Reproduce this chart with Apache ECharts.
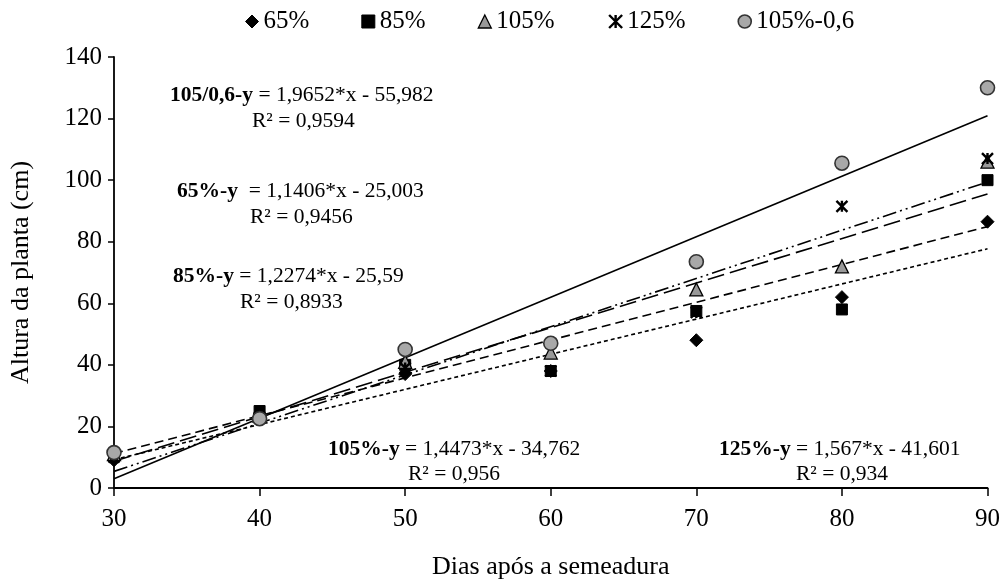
<!DOCTYPE html>
<html><head><meta charset="utf-8">
<script src="https://cdn.jsdelivr.net/npm/echarts@6/dist/echarts.min.js"></script>
<style>html,body{margin:0;padding:0;background:#fff}#c{width:1003px;height:585px}</style>
</head><body><div id="c"></div>
<script>
const days = [30, 40, 50, 60, 70, 80, 90];
const seriesNames = ['65%', '85%', '105%', '125%', '105%-0,6'];
const v65 = [9, 24, 37, 38, 48, 62, 86.5];
const v85 = [11, 25, 40, 38, 57.5, 58, 100];
const v105 = [11, 23.5, 41, 44, 64.5, 72, 106];
const v125 = [10, 23, 39, 38, 57, 91.5, 107];
const v105_06 = [11.5, 22.5, 45, 47, 73.5, 105.5, 130];
// trend line end values read at x=30 and x=90
const trendX = [30, 90];
const trend65 = [9.2, 77.7];
const trend85 = [11.2, 84.9];
const trend105 = [8.7, 95.5];
const trend125 = [5.4, 99.4];
const trend105_06 = [3.0, 120.9];

const font = '"Liberation Serif", "Times New Roman", serif';
const values = [v65, v85, v105, v125, v105_06];
const trends = [trend65, trend85, trend105, trend125, trend105_06];
const symbols = ['diamond', 'rect', 'triangle', 'path://M0,0L10,10M10,0L0,10M5,0L5,10', 'circle'];
const sizes = [13, 11, 13, 11, 14];
const fills = ['#000', '#000', '#999', 'none', '#a8a8a8'];
const borders = ['#000', '#000', '#000', '#000', '#333'];
const bw = [1, 1, 1.3, 2.4, 1.6];
const dashTypes = [[4, 3], [9, 5], [17, 6], [14, 4, 2, 4, 2, 4], 'solid'];

const series = [];
seriesNames.forEach((n, i) => {
  series.push({
    name: n, type: 'scatter', z: 3,
    data: days.map((d, k) => [d, values[i][k]]),
    symbol: symbols[i], symbolSize: sizes[i],
    itemStyle: { color: fills[i], borderColor: borders[i], borderWidth: bw[i], opacity: 1 }
  });
});
seriesNames.forEach((n, i) => {
  series.push({
    name: 'trend ' + n, type: 'line', showSymbol: false, silent: true, z: 2,
    data: trendX.map((x, k) => [x, trends[i][k]]),
    lineStyle: { color: '#000', width: 1.6, type: dashTypes[i] },
    symbol: 'none'
  });
});

const ann = [
  { x: 170, y: 84, b: '105/0,6-y', r: ' = 1,9652*x - 55,982' },
  { x: 252, y: 110, b: '', r: 'R² = 0,9594' },
  { x: 177, y: 180, b: '65%-y', r: '  = 1,1406*x - 25,003' },
  { x: 250, y: 206, b: '', r: 'R² = 0,9456' },
  { x: 173, y: 265, b: '85%-y', r: ' = 1,2274*x - 25,59' },
  { x: 240, y: 291, b: '', r: 'R² = 0,8933' },
  { x: 328, y: 438, b: '105%-y', r: ' = 1,4473*x - 34,762' },
  { x: 408, y: 463, b: '', r: 'R² = 0,956' },
  { x: 719, y: 438, b: '125%-y', r: ' = 1,567*x - 41,601' },
  { x: 796, y: 463, b: '', r: 'R² = 0,934' }
];

const chart = echarts.init(document.getElementById('c'), null, { renderer: 'canvas' });
chart.setOption({
  animation: false,
  backgroundColor: '#fff',
  textStyle: { fontFamily: font },
  grid: { left: 114, right: 15, top: 57, bottom: 92, containLabel: false },
  legend: {
    data: seriesNames.map((n, i) => ({
      name: n, icon: symbols[i],
      itemStyle: { color: fills[i], borderColor: borders[i], borderWidth: bw[i] }
    })),
    top: 4, left: 240, itemWidth: 13, itemHeight: 13, itemGap: 52,
    textStyle: { fontFamily: font, fontSize: 25, color: '#000' }
  },
  xAxis: {
    type: 'value', min: 30, max: 90, interval: 10,
    name: 'Dias após a semeadura', nameLocation: 'middle', nameGap: 66,
    nameTextStyle: { fontFamily: font, fontSize: 26, color: '#000' },
    axisLine: { lineStyle: { color: '#000', width: 1.8 } },
    axisTick: { show: true, length: 8, lineStyle: { color: '#000', width: 1.5 } },
    axisLabel: { fontFamily: font, fontSize: 25, color: '#000', margin: 19 },
    splitLine: { show: false }
  },
  yAxis: {
    type: 'value', min: 0, max: 140, interval: 20,
    name: 'Altura da planta (cm)', nameLocation: 'middle', nameGap: 80,
    nameTextStyle: { fontFamily: font, fontSize: 26, color: '#000' },
    axisLine: { show: true, lineStyle: { color: '#000', width: 1.8 } },
    axisTick: { show: true, length: 6, lineStyle: { color: '#000', width: 1.5 } },
    axisLabel: { fontFamily: font, fontSize: 25, color: '#000', margin: 12 },
    splitLine: { show: false }
  },
  graphic: ann.map(a => ({
    type: 'text', left: a.x, top: a.y, z: 10,
    style: {
      text: (a.b ? '{b|' + a.b + '}' : '') + '{r|' + a.r + '}',
      rich: {
        b: { fontFamily: font, fontSize: 21.5, fontWeight: 'bold', fill: '#000', color: '#000' },
        r: { fontFamily: font, fontSize: 21.5, fill: '#000', color: '#000' }
      },
      fill: '#000'
    }
  })),
  series: series
});
</script></body></html>
